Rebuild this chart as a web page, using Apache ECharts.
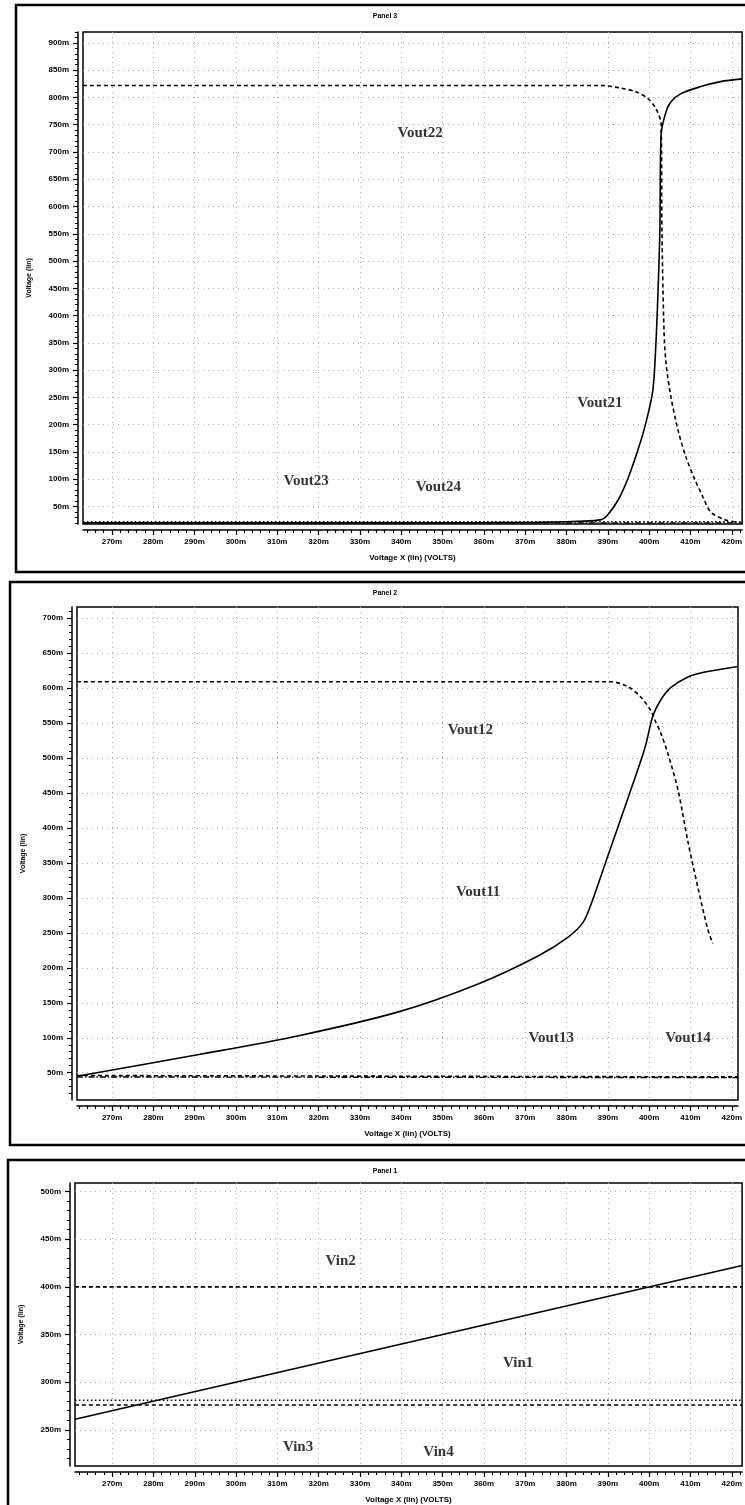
<!DOCTYPE html>
<html>
<head>
<meta charset="utf-8">
<script src="https://cdn.jsdelivr.net/npm/echarts@6/dist/echarts.min.js"></script>
<style>
  html, body { margin: 0; padding: 0; background: #fff; }
  #chart { width: 745px; height: 1505px; }
</style>
</head>
<body>
<div id="chart"></div>
<script>
// tick labels (mV)
const xTicks = [270, 280, 290, 300, 310, 320, 330, 340, 350, 360, 370, 380, 390, 400, 410, 420]
const p3YTicks = [50, 100, 150, 200, 250, 300, 350, 400, 450, 500, 550, 600, 650, 700, 750, 800, 850, 900]
const p2YTicks = [50, 100, 150, 200, 250, 300, 350, 400, 450, 500, 550, 600, 650, 700]
const p1YTicks = [250, 300, 350, 400, 450, 500]

// Panel 3
const vout21X = [263, 300, 340, 373, 383, 388.4, 390, 392.5, 394.9, 397.3, 399.2, 400.9, 401.6, 402.1, 402.6, 402.9, 404.1, 405.3, 407.7, 412.5, 417.3, 422.5]
const vout21Y = [20, 20, 20, 21, 23, 26, 35, 62, 102, 154, 203, 263, 342, 433, 555, 732, 774, 792, 807, 820, 829, 834]
const vout22X = [263, 388.4, 393.2, 396.6, 399.7, 401.6, 402.9, 403.1, 403.6, 404.1, 405.3, 407, 408.9, 411.1, 413, 414.9, 418.3, 421.5]
const vout22Y = [822, 822, 817, 811, 798, 780, 751, 555, 373, 312, 250, 190, 141, 99, 68, 40, 26, 21]
const vout23X = [263, 422.5]
const vout23Y = [22, 22]
const vout24X = [263, 422.5]
const vout24Y = [20, 20]

// Panel 2
const vout11X = [261.5, 291, 315.2, 339.3, 358.6, 373.1, 380.4, 384, 386, 390, 395.6, 399, 400.9, 402.8, 405.3, 409.4, 413.5, 421.5]
const vout11Y = [45, 76, 103, 137, 177, 217, 244, 265, 292, 360, 455, 515, 560, 583, 601, 616, 623, 631]
const vout12X = [261.5, 390.8, 394.9, 398, 400.4, 401.4, 402.8, 404.5, 407, 409.4, 411.8, 414.2, 415.4]
const vout12Y = [609, 609, 602, 587, 568, 554, 536, 507, 454, 380, 315, 255, 235]
const vout13X = [261.5, 421.5]
const vout13Y = [46, 44]
const vout14X = [261.5, 421.5]
const vout14Y = [44, 43]

// Panel 1
const vin1X = [261, 422.5]
const vin1Y = [261, 422.5]
const vin2X = [261, 422.5]
const vin2Y = [400, 400]
const vin3X = [261, 422.5]
const vin3Y = [281, 281]
const vin4X = [261, 422.5]
const vin4Y = [276, 276]

// curve names written inside the plots: [text, x, y]
const p3Names = [['Vout22', 344.6, 734], ['Vout21', 388.1, 239], ['Vout23', 317, 97], ['Vout24', 349, 86]]
const p2Names = [['Vout12', 356.7, 540], ['Vout11', 358.6, 308], ['Vout13', 376.3, 99], ['Vout14', 409.4, 99]]
const p1Names = [['Vin2', 325.3, 427], ['Vin1', 368.3, 320], ['Vin3', 315, 232], ['Vin4', 349, 227]]

const chart = echarts.init(document.getElementById('chart'))

function zip(xs, ys) {
  return xs.map((x, i) => [x, ys[i]])
}

// minor tick positions, five per labelled step
function minorOf(ticks, lo, hi) {
  let step = (ticks[1] - ticks[0]) / 5
  let out = []
  for (let v = ticks[0]; v >= lo; v -= step) out.unshift(+v.toFixed(3))
  for (let v = ticks[0] + step; v <= hi; v += step) out.push(+v.toFixed(3))
  return out
}

const tickFont = { fontFamily: 'Liberation Sans', fontWeight: 'bold', fontSize: 8, color: '#000' }
const solid = { color: '#000', width: 1.6, type: 'solid' }
const dashed = { color: '#000', width: 1.6, type: [4, 3] }
const dotted = { color: '#000', width: 1.4, type: [1.5, 2.5] }
const dashDot = { color: '#000', width: 1.4, type: [6, 2, 1.5, 2] }
const gridLine = { show: true, lineStyle: { color: '#aaa', type: [1, 4], width: 1 } }

const panels = [
  { title: 'Panel 3', box: [16, 5, 740, 567], grid: [83, 32, 662, 492], x: [263, 422.5], y: [18, 920], yTicks: p3YTicks,
    series: [[vout21X, vout21Y, solid], [vout22X, vout22Y, dashed], [vout23X, vout23Y, dotted], [vout24X, vout24Y, dashDot]], names: p3Names },
  { title: 'Panel 2', box: [10, 582, 745, 563], grid: [77, 607, 663, 493], x: [261.5, 421.5], y: [11, 716], yTicks: p2YTicks,
    series: [[vout11X, vout11Y, solid], [vout12X, vout12Y, dashed], [vout13X, vout13Y, dashed], [vout14X, vout14Y, dashDot]], names: p2Names },
  { title: 'Panel 1', box: [8, 1160, 745, 350], grid: [75, 1183, 670, 289], x: [261, 422.5], y: [212, 509], yTicks: p1YTicks,
    series: [[vin1X, vin1Y, solid], [vin2X, vin2Y, dashed], [vin3X, vin3Y, dotted], [vin4X, vin4Y, dashed]], names: p1Names }
]

let grid = [], xAxis = [], yAxis = [], series = [], graphic = []

panels.forEach((p, i) => {
  grid.push({
    left: p.grid[0], top: p.grid[1], width: p.grid[2], height: p.grid[3],
    show: true, borderColor: '#000', borderWidth: 1.5, backgroundColor: '#fff'
  })
  xAxis.push({
    type: 'value', gridIndex: i, position: 'bottom', min: p.x[0], max: p.x[1], offset: 6,
    name: 'Voltage X (lin) (VOLTS)', nameLocation: 'middle', nameGap: 24,
    nameTextStyle: { fontFamily: 'Liberation Sans', fontWeight: 'bold', fontSize: 8 },
    axisLine: { show: true, onZero: false, lineStyle: { color: '#000', width: 1.5 } },
    axisTick: { show: true, customValues: xTicks, length: 5, lineStyle: { color: '#000', width: 1.2 } },
    axisLabel: { show: true, customValues: xTicks, formatter: v => v + 'm', margin: 8, ...tickFont },
    splitLine: gridLine
  })
  xAxis.push({
    type: 'value', gridIndex: i, position: 'bottom', min: p.x[0], max: p.x[1], offset: 6,
    axisLine: { show: false },
    axisTick: { show: true, customValues: minorOf(xTicks, p.x[0], p.x[1]), length: 3, lineStyle: { color: '#000' } },
    axisLabel: { show: false }, splitLine: { show: false }
  })
  yAxis.push({
    type: 'value', gridIndex: i, position: 'left', min: p.y[0], max: p.y[1], offset: 5,
    name: 'Voltage (lin)', nameLocation: 'middle', nameRotate: 90, nameGap: 45,
    nameTextStyle: { fontFamily: 'Liberation Sans', fontWeight: 'bold', fontSize: 7 },
    axisLine: { show: true, onZero: false, lineStyle: { color: '#000', width: 1.5 } },
    axisTick: { show: true, customValues: p.yTicks, length: 5, lineStyle: { color: '#000', width: 1.2 } },
    axisLabel: { show: true, customValues: p.yTicks, formatter: v => v + 'm', margin: 9, ...tickFont },
    splitLine: gridLine
  })
  yAxis.push({
    type: 'value', gridIndex: i, position: 'left', min: p.y[0], max: p.y[1], offset: 5,
    axisLine: { show: false },
    axisTick: { show: true, customValues: minorOf(p.yTicks, p.y[0], p.y[1]), length: 3, lineStyle: { color: '#000' } },
    axisLabel: { show: false }, splitLine: { show: false }
  })
  p.series.forEach(s => {
    series.push({
      type: 'line', xAxisIndex: i * 2, yAxisIndex: i * 2, data: zip(s[0], s[1]),
      showSymbol: false, smooth: 0.3, lineStyle: s[2], z: 3
    })
  })
  series.push({
    type: 'scatter', xAxisIndex: i * 2, yAxisIndex: i * 2, symbolSize: 0, z: 4,
    data: p.names.map(n => ({ name: n[0], value: [n[1], n[2]] })),
    label: { show: true, position: 'inside', formatter: '{b}', fontFamily: 'Liberation Serif', fontWeight: 'bold', fontSize: 15, color: '#000' }
  })
  graphic.push({
    type: 'rect', shape: { x: p.box[0], y: p.box[1], width: p.box[2], height: p.box[3] },
    style: { fill: 'none', stroke: '#000', lineWidth: 2.5 }, z: 10, silent: true
  })
  graphic.push({
    type: 'text', x: 385, y: p.box[1] + 11,
    style: { text: p.title, fontFamily: 'Liberation Sans', fontWeight: 'bold', fontSize: 7, fill: '#000', align: 'center', verticalAlign: 'middle' },
    z: 10
  })
})

chart.setOption({
  animation: false,
  backgroundColor: '#fff',
  grid: grid,
  xAxis: xAxis,
  yAxis: yAxis,
  series: series,
  graphic: graphic
})
</script>
</body>
</html>
